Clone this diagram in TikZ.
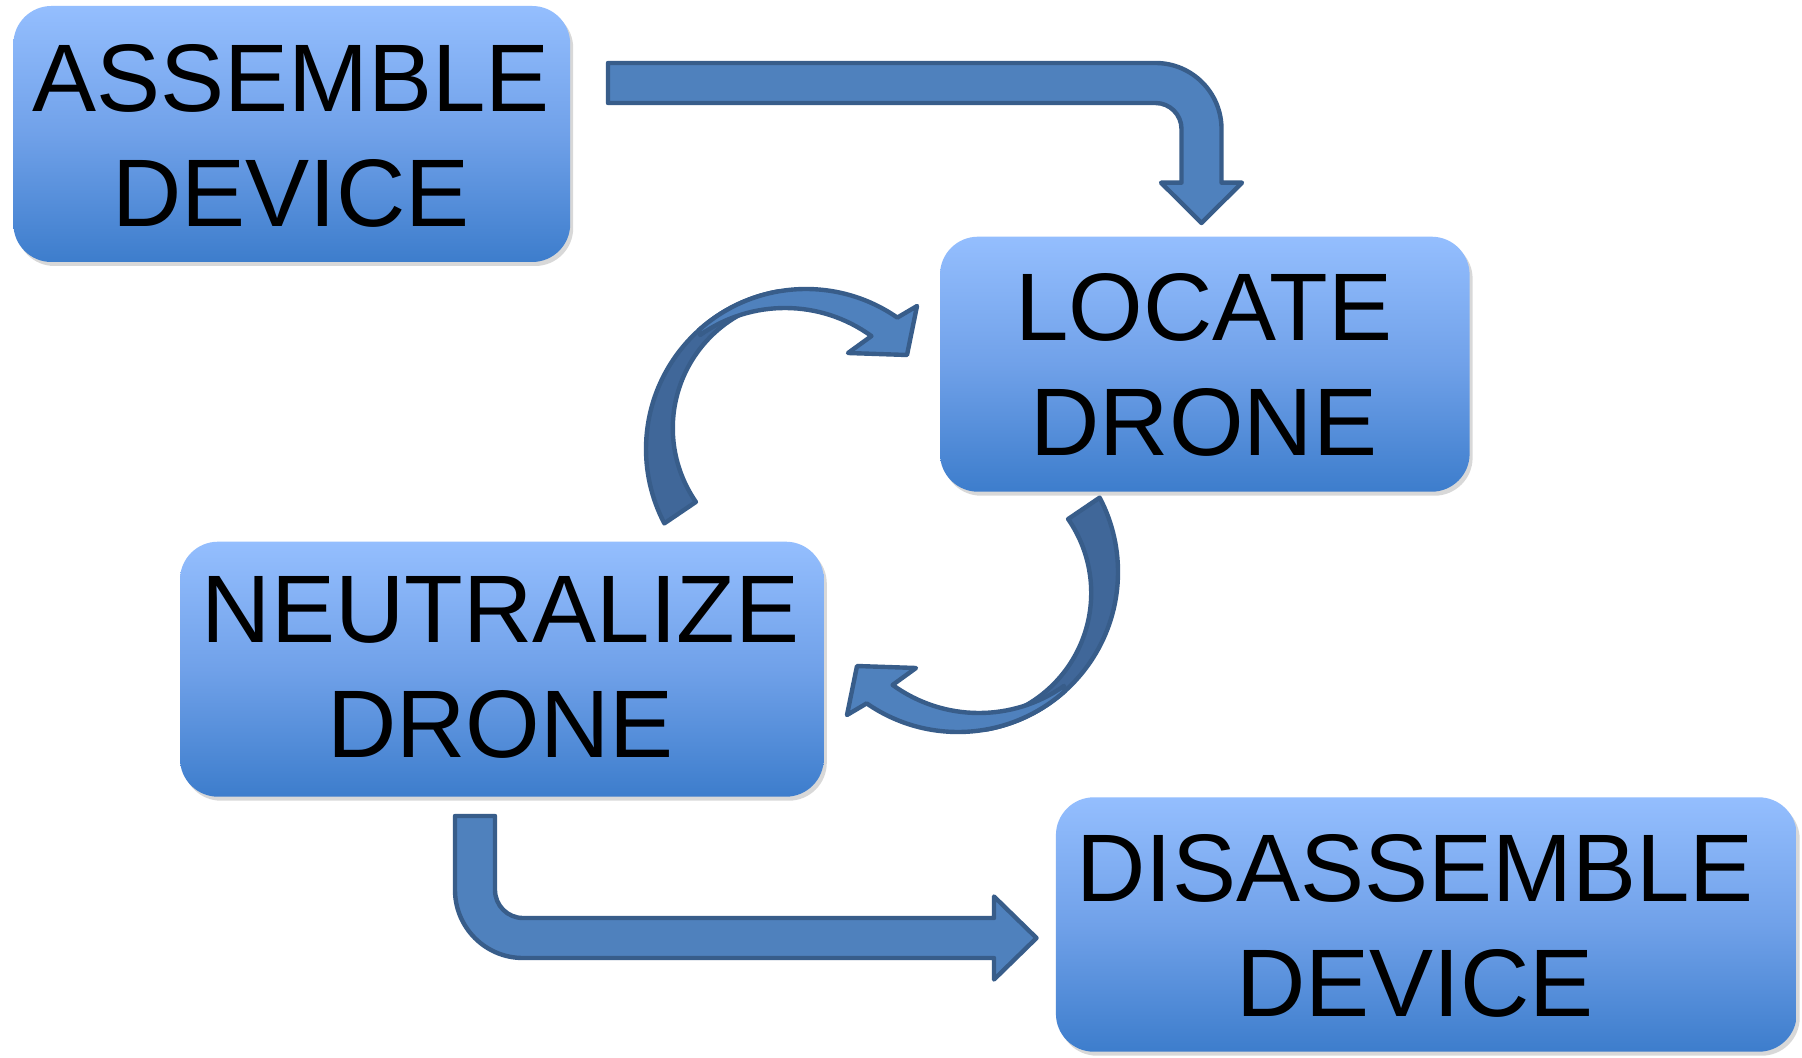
\documentclass[tikz,border=0pt]{standalone}
\usepackage{fontspec}
\setmainfont{Liberation Sans}
\usetikzlibrary{shadows}
\definecolor{arrowfill}{RGB}{79,129,189}
\definecolor{arrowdark}{RGB}{64,103,153}
\definecolor{arrowline}{RGB}{56,93,138}
\definecolor{gradtop}{RGB}{148,190,254}
\definecolor{gradmid}{RGB}{112,161,233}
\definecolor{gradbot}{RGB}{61,125,204}
\tikzset{
  box/.style={rounded corners=19pt, top color=gradtop, bottom color=gradbot,
    middle color=gradmid, draw=none, inner sep=0pt,
    drop shadow={shadow xshift=1.5pt, shadow yshift=-2pt, opacity=0.3}},
  lbl/.style={align=center, inner sep=0pt, text=black,
    font=\fontsize{48}{57.5}\selectfont},
  blockarrow/.style={fill=arrowfill, draw=arrowline, line width=2.2pt, line join=round},
  darkpart/.style={fill=arrowdark, draw=arrowline, line width=2.2pt, line join=round}
}
\newcommand{\drawcyclearrow}{%
  \draw[darkpart] (664.34,523.37) arc[start angle=152.3, end angle=260, radius=160]
    -- (779.8,300.6) arc[start angle=260, end angle=145.25, radius=129.5] -- cycle;
  \draw[blockarrow] (698.94,330.10) arc[start angle=228, end angle=304.8, radius=160]
    -- (917,306) -- (907,355) -- (848,353)
    -- (871.40,336.07) arc[start angle=306, end angle=234.7, radius=147] -- cycle;
}
\begin{document}
\begin{tikzpicture}[x=0.5pt,y=-0.5pt]
\useasboundingbox (0,0) rectangle (1802,1058);
\fill[white] (0,0) rectangle (1802,1058);

% boxes
\node[box, minimum width=278.4pt, minimum height=128pt] (asm) at (291.8,134) {};
\node[box, minimum width=264.8pt, minimum height=127.5pt] (loc) at (1204.8,364.2) {};
\node[box, minimum width=321.9pt, minimum height=127.5pt] (neu) at (501.9,669.2) {};
\node[box, minimum width=370.4pt, minimum height=127.2pt] (dis) at (1426.3,924.5) {};

% labels
\node[lbl] (asmT) at (291,135.8) {ASSEMBLE\\DEVICE};
\node[lbl] (locT) at (1204,365.4) {LOCATE\\DRONE};
\node[lbl] (neuT) at (500.7,667.2) {NEUTRALIZE\\DRONE};
\node[lbl] (disT) at (1415,926.3) {DISASSEMBLE\\DEVICE};

% bent arrow: assemble -> locate
\draw[blockarrow] (608,63) -- (1155.5,63) arc[start angle=-90, end angle=0, radius=66]
  -- (1221.5,182.7) -- (1242,182.7) -- (1201.5,223) -- (1161,182.7) -- (1181.5,182.7)
  -- (1181.5,129) arc[start angle=0, end angle=-90, radius=26] -- (608,103) -- cycle;

% bent arrow: neutralize -> disassemble
\draw[blockarrow] (455,816) -- (495,816) -- (495,890) arc[start angle=180, end angle=90, radius=28]
  -- (994,918) -- (994,896.5) -- (1036.5,938) -- (994,979.5) -- (994,958)
  -- (523,958) arc[start angle=90, end angle=180, radius=68] -- cycle;

% circular arrows
\drawcyclearrow
\begin{scope}[rotate around={180:(882,510.5)}]
  \drawcyclearrow
\end{scope}
\end{tikzpicture}
\end{document}
